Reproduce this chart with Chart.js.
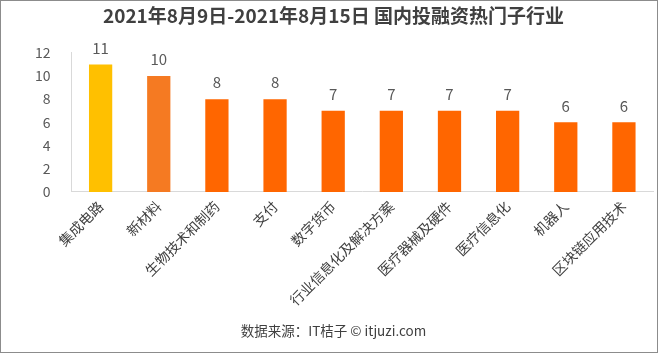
<!DOCTYPE html>
<html>
<head>
<meta charset="utf-8">
<script src="https://cdn.jsdelivr.net/npm/chart.js@4"></script>
<style>
  html, body { margin: 0; padding: 0; background: #fff; }
  #wrap {
    width: 658px; height: 353px; box-sizing: border-box;
    border: 1px solid #8c8c8c; position: relative;
  }
  #wrap canvas { display: block; }
</style>
</head>
<body>
<div id="wrap"><canvas id="chart" width="656" height="351"></canvas></div>
<script>
// chart data
const categories = ['集成电路', '新材料', '生物技术和制药', '支付', '数字货币',
    '行业信息化及解决方案', '医疗器械及硬件', '医疗信息化', '机器人', '区块链应用技术'];
const dealCounts = [11, 10, 8, 8, 7, 7, 7, 7, 6, 6];
const barColors = ['#ffc000', '#f57a22', '#ff6600', '#ff6600', '#ff6600',
    '#ff6600', '#ff6600', '#ff6600', '#ff6600', '#ff6600'];
const yTicks = [0, 2, 4, 6, 8, 10, 12];

const fontFamily = '"Noto Sans CJK SC", "Noto Sans", sans-serif';

// draw value labels above each bar
const valueLabels = {
    id: 'valueLabels',
    afterDatasetsDraw(chart) {
        const ctx = chart.ctx;
        const meta = chart.getDatasetMeta(0);
        ctx.save();
        ctx.font = '15px ' + fontFamily;
        ctx.fillStyle = '#595959';
        ctx.textAlign = 'center';
        ctx.textBaseline = 'bottom';
        meta.data.forEach((bar, i) => {
            ctx.fillText(String(dealCounts[i]), bar.x, bar.y - 9);
        });
        ctx.restore();
    }
};

const ctx = document.getElementById('chart').getContext('2d');
new Chart(ctx, {
    type: 'bar',
    data: {
        labels: categories,
        datasets: [{
            data: dealCounts,
            backgroundColor: barColors,
            categoryPercentage: 1,
            barPercentage: 0.4
        }]
    },
    options: {
        responsive: false,
        animation: false,
        layout: { padding: { left: 13, right: 4, top: 0, bottom: 0 } },
        scales: {
            y: {
                min: 0,
                max: 12,
                afterBuildTicks(axis) {
                    axis.ticks = yTicks.map(v => ({ value: v }));
                },
                grid: { display: false, drawTicks: false },
                border: { display: true, color: '#d9d9d9' },
                ticks: {
                    padding: 21,
                    color: '#595959',
                    font: { family: fontFamily, size: 14 }
                }
            },
            x: {
                grid: { display: false, drawTicks: false },
                border: { display: true, color: '#d9d9d9' },
                ticks: {
                    minRotation: 45,
                    maxRotation: 45,
                    padding: 6,
                    color: '#404040',
                    font: { family: fontFamily, size: 14 }
                }
            }
        },
        plugins: {
            legend: { display: false },
            tooltip: { enabled: false },
            title: {
                display: true,
                text: '2021年8月9日-2021年8月15日 国内投融资热门子行业',
                color: '#404040',
                font: { family: fontFamily, size: 19, weight: 'bold' },
                padding: { top: 3, bottom: 26 }
            },
            subtitle: {
                display: true,
                position: 'bottom',
                text: '数据来源：IT桔子 © itjuzi.com',
                color: '#404040',
                font: { family: fontFamily, size: 13.5 },
                padding: { top: 8, bottom: 13 }
            }
        }
    },
    plugins: [valueLabels]
});
</script>
</body>
</html>
